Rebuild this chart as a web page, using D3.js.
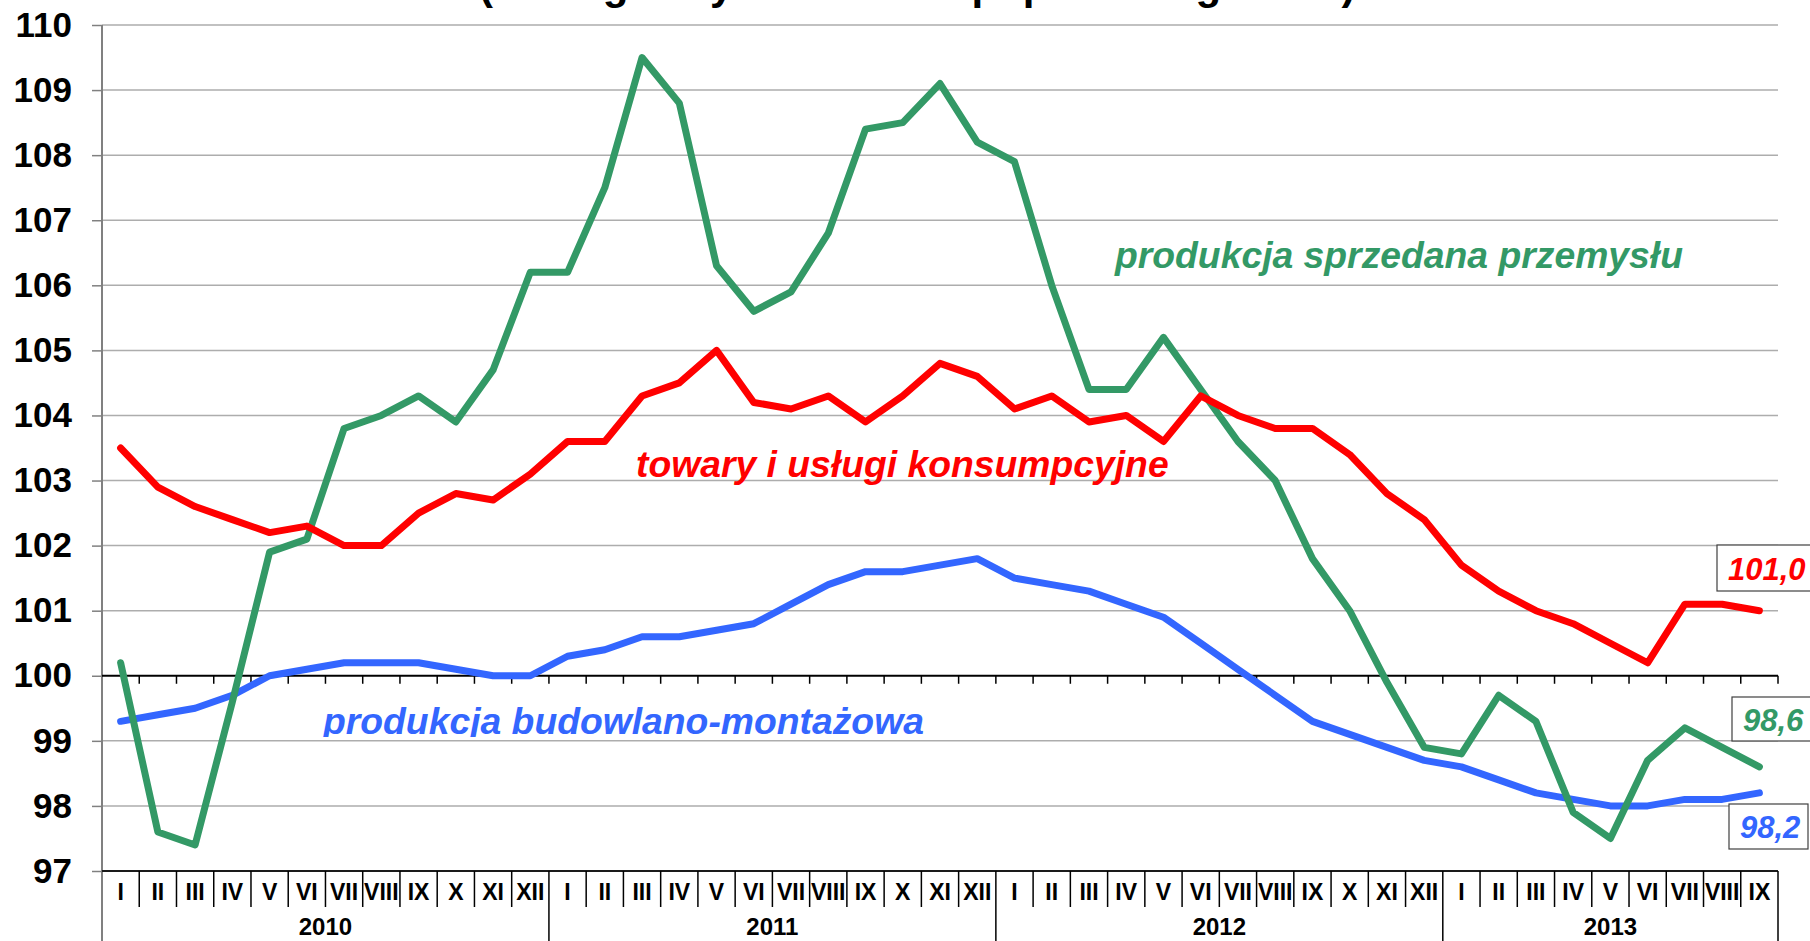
<!DOCTYPE html>
<html>
<head>
<meta charset="utf-8">
<script src="https://cdn.jsdelivr.net/npm/d3@7/dist/d3.min.js"></script>
<style>
  body { margin: 0; background: #fff; }
  svg { display: block; }
  text { font-family: Arial, "Liberation Sans", sans-serif; font-weight: bold; }
</style>
</head>
<body>
<svg id="chart" width="1810" height="941"></svg>
<script>
// data (index, same period of previous year = 100)
const romanMonths = ["I", "II", "III", "IV", "V", "VI", "VII", "VIII", "IX", "X", "XI", "XII"];
const years = [2010, 2011, 2012, 2013];
const monthsPerYear = [12, 12, 12, 9];
const yTicks = [97, 98, 99, 100, 101, 102, 103, 104, 105, 106, 107, 108, 109, 110];

const industry = [
  100.2, 97.6, 97.4, 99.6, 101.9, 102.1, 103.8, 104.0, 104.3, 103.9, 104.7, 106.2,
  106.2, 107.5, 109.5, 108.8, 106.3, 105.6, 105.9, 106.8, 108.4, 108.5, 109.1, 108.2,
  107.9, 106.0, 104.4, 104.4, 105.2, 104.4, 103.6, 103.0, 101.8, 101.0, 99.9, 98.9,
  98.8, 99.7, 99.3, 97.9, 97.5, 98.7, 99.2, 98.9, 98.6
];
const consumer = [
  103.5, 102.9, 102.6, 102.4, 102.2, 102.3, 102.0, 102.0, 102.5, 102.8, 102.7, 103.1,
  103.6, 103.6, 104.3, 104.5, 105.0, 104.2, 104.1, 104.3, 103.9, 104.3, 104.8, 104.6,
  104.1, 104.3, 103.9, 104.0, 103.6, 104.3, 104.0, 103.8, 103.8, 103.4, 102.8, 102.4,
  101.7, 101.3, 101.0, 100.8, 100.5, 100.2, 101.1, 101.1, 101.0
];
const construction = [
  99.3, 99.4, 99.5, 99.7, 100.0, 100.1, 100.2, 100.2, 100.2, 100.1, 100.0, 100.0,
  100.3, 100.4, 100.6, 100.6, 100.7, 100.8, 101.1, 101.4, 101.6, 101.6, 101.7, 101.8,
  101.5, 101.4, 101.3, 101.1, 100.9, 100.5, 100.1, 99.7, 99.3, 99.1, 98.9, 98.7,
  98.6, 98.4, 98.2, 98.1, 98.0, 98.0, 98.1, 98.1, 98.2
];

const periods = years.flatMap((yr, i) =>
  romanMonths.slice(0, monthsPerYear[i]).map(m => ({ year: yr, month: m })));

const svg = d3.select("#chart");
const plotLeft = 102, plotRight = 1778, plotTop = 25, plotBottom = 871;

const x = d3.scaleBand().domain(d3.range(periods.length)).range([plotLeft, plotRight]);
const xb = d3.scaleLinear().domain([0, periods.length]).range([plotLeft, plotRight]); // band edges
const y = d3.scaleLinear().domain([97, 110]).range([plotBottom, plotTop]);
const cx = i => x(i) + x.bandwidth() / 2;

// title, cut off at the top edge like in the source
svg.append("text")
  .attr("x", 479).attr("y", -1)
  .attr("font-size", 42)
  .attr("fill", "#000")
  .text("(analogiczny okres roku poprzedniego=100)");

// gridlines
svg.append("g")
  .selectAll("line")
  .data(yTicks.filter(v => v !== 97 && v !== 100))
  .join("line")
  .attr("x1", plotLeft).attr("x2", plotRight)
  .attr("y1", d => y(d)).attr("y2", d => y(d))
  .attr("stroke", "#adadad")
  .attr("stroke-width", 1.5);

// y axis
const yAxis = svg.append("g")
  .attr("transform", `translate(${plotLeft},0)`)
  .call(d3.axisLeft(y).tickValues(yTicks).tickSize(10).tickPadding(20).tickFormat(d3.format("d")));
yAxis.select(".domain").remove();
yAxis.selectAll(".tick line").attr("stroke", "#808080").attr("stroke-width", 1.5);
yAxis.selectAll(".tick text")
  .attr("font-size", 35)
  .attr("font-family", "Arial, 'Liberation Sans', sans-serif")
  .attr("font-weight", "bold")
  .attr("fill", "#000");

// left axis line continues down as the first year divider
svg.append("line")
  .attr("x1", plotLeft).attr("x2", plotLeft)
  .attr("y1", plotTop).attr("y2", 941)
  .attr("stroke", "#808080").attr("stroke-width", 2);

// axis crossing at 100 with small ticks on band edges
svg.append("line")
  .attr("x1", plotLeft).attr("x2", plotRight)
  .attr("y1", y(100)).attr("y2", y(100))
  .attr("stroke", "#000").attr("stroke-width", 2);
svg.append("g")
  .selectAll("line")
  .data(d3.range(1, periods.length + 1))
  .join("line")
  .attr("x1", d => xb(d)).attr("x2", d => xb(d))
  .attr("y1", y(100)).attr("y2", y(100) + 8)
  .attr("stroke", "#000").attr("stroke-width", 1.5);

// category axis at the bottom
svg.append("line")
  .attr("x1", plotLeft).attr("x2", plotRight)
  .attr("y1", plotBottom).attr("y2", plotBottom)
  .attr("stroke", "#1a1a1a").attr("stroke-width", 2);

const yearEdges = [0];
monthsPerYear.forEach((n, i) => yearEdges.push(yearEdges[i] + n));

svg.append("g")
  .selectAll("line")
  .data(d3.range(1, periods.length + 1))
  .join("line")
  .attr("x1", d => xb(d)).attr("x2", d => xb(d))
  .attr("y1", plotBottom)
  .attr("y2", d => yearEdges.includes(d) ? 941 : 907)
  .attr("stroke", "#000").attr("stroke-width", 1.5);

svg.append("g")
  .selectAll("text")
  .data(periods)
  .join("text")
  .attr("x", (d, i) => cx(i))
  .attr("y", 900)
  .attr("text-anchor", "middle")
  .attr("font-size", 23)
  .text(d => d.month);

svg.append("g")
  .selectAll("text")
  .data(years)
  .join("text")
  .attr("x", (d, i) => (xb(yearEdges[i]) + xb(yearEdges[i + 1])) / 2)
  .attr("y", 935)
  .attr("text-anchor", "middle")
  .attr("font-size", 24)
  .text(d => d);

// series
const line = d3.line().x((d, i) => cx(i)).y(d => y(d));
const series = [
  { values: construction, color: "#3366ff" },
  { values: industry, color: "#339966" },
  { values: consumer, color: "#ff0000" }
];
series.forEach(s => {
  svg.append("path")
    .datum(s.values)
    .attr("d", line)
    .attr("fill", "none")
    .attr("stroke", s.color)
    .attr("stroke-width", 7)
    .attr("stroke-linejoin", "round")
    .attr("stroke-linecap", "round");
});

// series names
svg.append("text")
  .attr("x", 1115).attr("y", 268)
  .attr("font-size", 37.3).attr("font-style", "italic")
  .attr("fill", "#339966")
  .text("produkcja sprzedana przemysłu");

svg.append("text")
  .attr("x", 636).attr("y", 477)
  .attr("font-size", 37.3).attr("font-style", "italic")
  .attr("fill", "#ff0000")
  .text("towary i usługi konsumpcyjne");

svg.append("clipPath").attr("id", "clipBlue")
  .append("rect").attr("x", 0).attr("y", 0).attr("width", 1810).attr("height", 737);
svg.append("text")
  .attr("x", 323).attr("y", 734)
  .attr("clip-path", "url(#clipBlue)")
  .attr("font-size", 37.3).attr("font-style", "italic")
  .attr("fill", "#3366ff")
  .text("produkcja budowlano-montażowa");

// last-value boxes
const fmt = v => d3.format(".1f")(v).replace(".", ",");
const endLabels = [
  { values: consumer, color: "#ff0000", box: [1717, 545, 110, 46], tx: 1728, ty: 580 },
  { values: industry, color: "#339966", box: [1732, 697, 100, 44], tx: 1743, ty: 731 },
  { values: construction, color: "#3366ff", box: [1729, 804, 79, 45], tx: 1740, ty: 838 }
];
endLabels.forEach(l => {
  svg.append("rect")
    .attr("x", l.box[0]).attr("y", l.box[1])
    .attr("width", l.box[2]).attr("height", l.box[3])
    .attr("fill", "#fff")
    .attr("stroke", "#404040").attr("stroke-width", 1.2);
  svg.append("text")
    .attr("x", l.tx).attr("y", l.ty)
    .attr("font-size", 31).attr("font-style", "italic")
    .attr("fill", l.color)
    .text(fmt(l.values[l.values.length - 1]));
});
</script>
</body>
</html>
